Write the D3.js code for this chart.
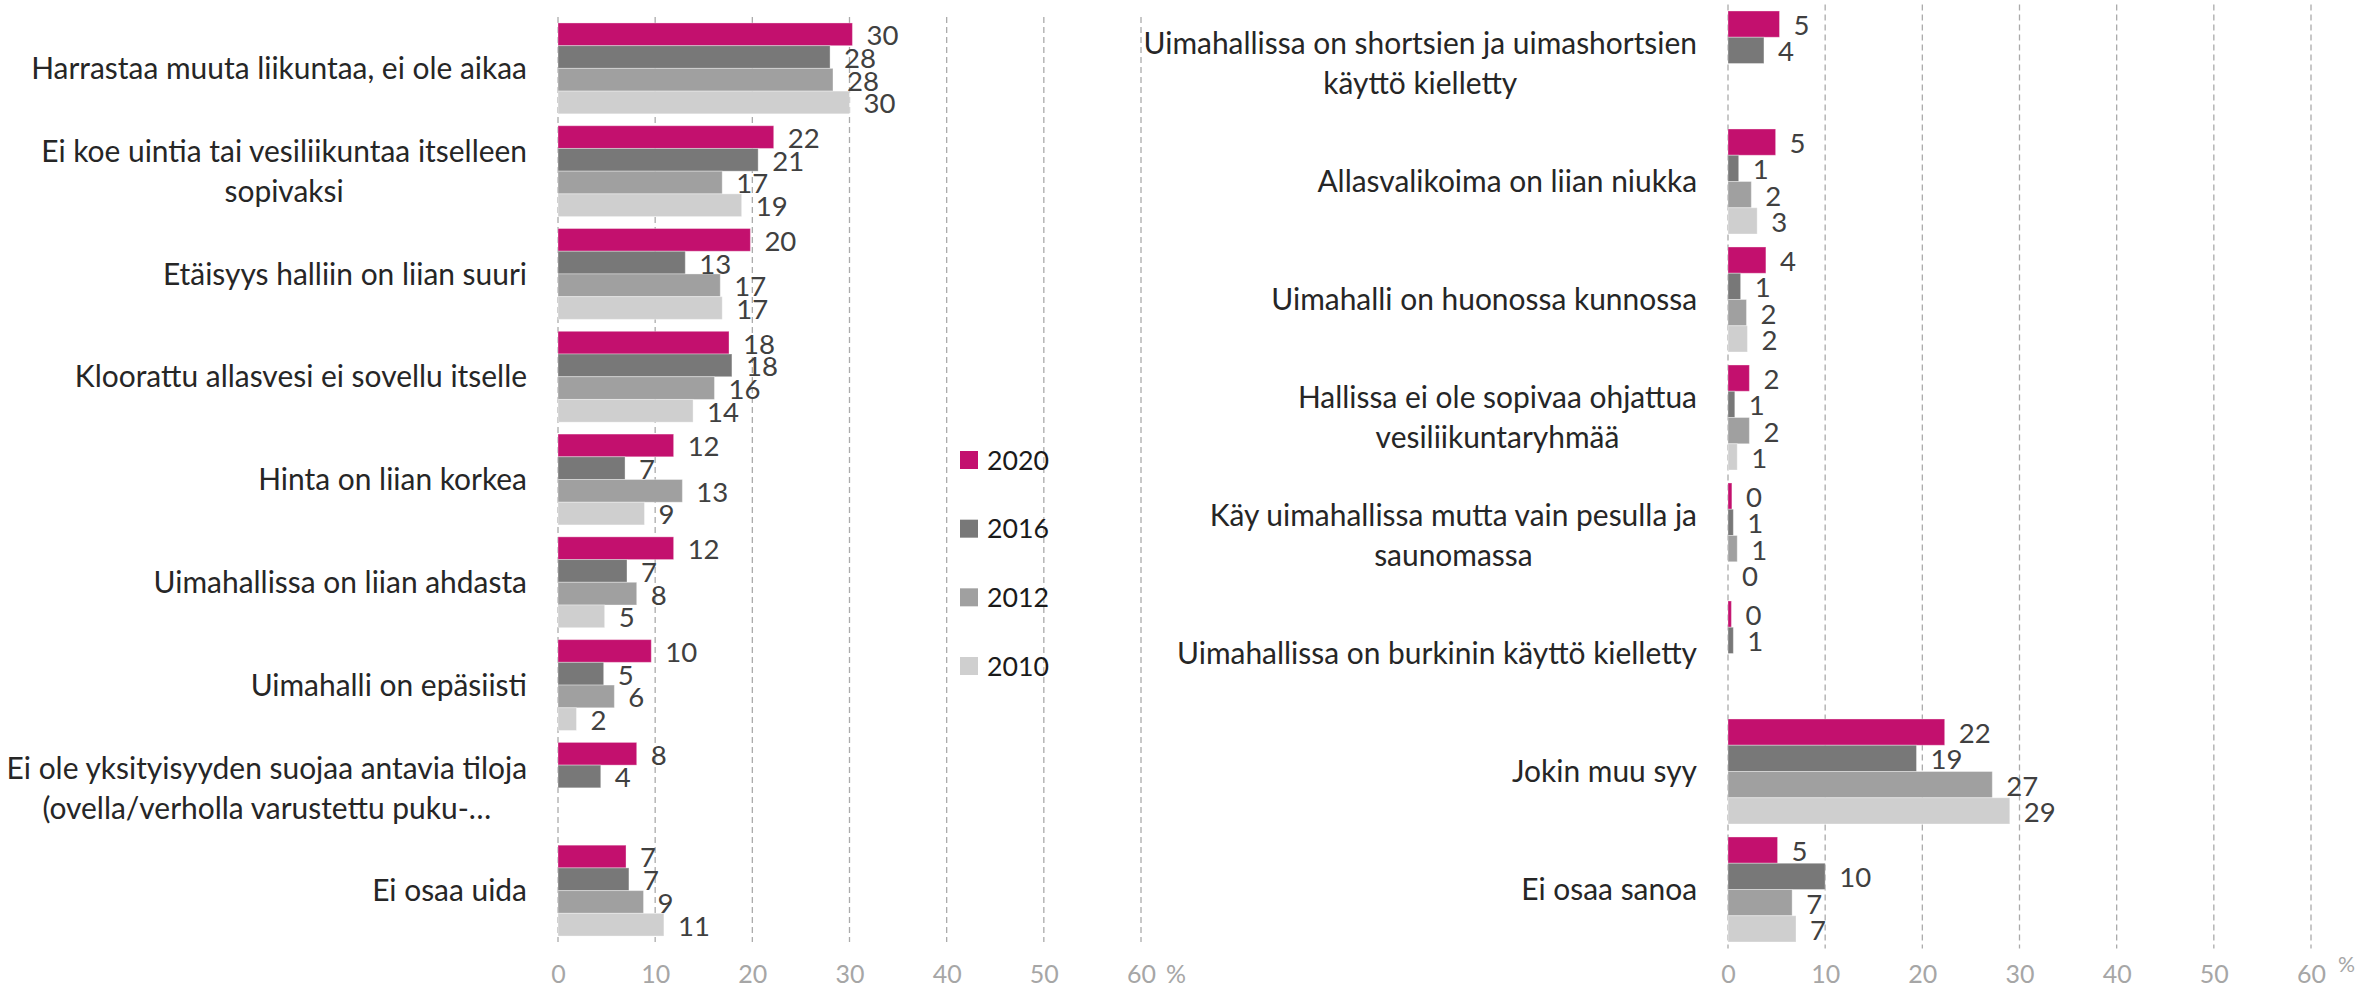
<!DOCTYPE html>
<html>
<head>
<meta charset="utf-8">
<script src="https://cdn.jsdelivr.net/npm/d3@7"></script>
<style>
  body { margin: 0; background: #ffffff; }
  svg { display: block; }
</style>
</head>
<body>
<svg id="chart" width="2380" height="991"></svg>
<script>
// ---------------- DATA ----------------
const series = ["2020", "2016", "2012", "2010"];
const seriesColors = ["#C3106E", "#787878", "#A0A0A0", "#CFCFCF"];
const xTicks = [0, 10, 20, 30, 40, 50, 60];
const unitLabel = "%";

const leftCategories = [
  "Harrastaa muuta liikuntaa, ei ole aikaa",
  "Ei koe uintia tai vesiliikuntaa itselleen\nsopivaksi",
  "Etäisyys halliin on liian suuri",
  "Kloorattu allasvesi ei sovellu itselle",
  "Hinta on liian korkea",
  "Uimahallissa on liian ahdasta",
  "Uimahalli on epäsiisti",
  "Ei ole yksityisyyden suojaa antavia tiloja\n(ovella/verholla varustettu puku-…",
  "Ei osaa uida"
];
const left2020 = [30.3, 22.2, 19.8, 17.6, 11.9, 11.9, 9.6, 8.1, 7.0];
const left2016 = [28.0, 20.6, 13.1, 17.9, 6.9, 7.1, 4.7, 4.4, 7.3];
const left2012 = [28.3, 16.9, 16.7, 16.1, 12.8, 8.1, 5.8, null, 8.8];
const left2010 = [30.0, 18.9, 16.9, 13.9, 8.9, 4.8, 1.9, null, 10.9];

const rightCategories = [
  "Uimahallissa on shortsien ja uimashortsien\nkäyttö kielletty",
  "Allasvalikoima on liian niukka",
  "Uimahalli on huonossa kunnossa",
  "Hallissa ei ole sopivaa ohjattua\nvesiliikuntaryhmää",
  "Käy uimahallissa mutta vain pesulla ja\nsaunomassa",
  "Uimahallissa on burkinin käyttö kielletty",
  "Jokin muu syy",
  "Ei osaa sanoa"
];
const right2020 = [5.3, 4.9, 3.9, 2.2, 0.4, 0.35, 22.3, 5.1];
const right2016 = [3.7, 1.1, 1.3, 0.7, 0.55, 0.55, 19.4, 10.0];
const right2012 = [null, 2.4, 1.9, 2.2, 0.95, null, 27.2, 6.6];
const right2010 = [null, 3.0, 2.0, 0.95, 0, null, 29.0, 7.0];

// ---------------- RENDER ----------------
const FONT = "Lato, 'Open Sans', 'Noto Sans', sans-serif";
const svg = d3.select("#chart");

function measure(text, size) {
  const t = svg.append("text").attr("font-family", FONT).attr("font-size", size).text(text);
  const w = t.node().getComputedTextLength();
  t.remove();
  return w;
}
const catSize = 29 * 496 / measure("Harrastaa muuta liikuntaa, ei ole aikaa", 29);
const valSize = 27 * 32 / measure("30", 27);
const tickSize = 22 * 29 / measure("60", 22);
const legSize = 26 * 62 / measure("2020", 26);

function panel(cfg) {
  const g = svg.append("g");
  const x = d3.scaleLinear().domain([0, 60]).range([cfg.x0, cfg.x1]);
  const y = d3.scaleBand().domain(cfg.categories)
    .range([cfg.top, cfg.bottom]).paddingInner(cfg.pad).paddingOuter(cfg.pad / 2);
  const ys = d3.scaleBand().domain(series).range([0, y.bandwidth()]);

  // gridlines
  g.append("g").selectAll("line").data(xTicks).join("line")
    .attr("x1", d => x(d)).attr("x2", d => x(d))
    .attr("y1", cfg.top).attr("y2", cfg.bottom)
    .attr("stroke", "#ABABAB").attr("stroke-width", 1.3)
    .attr("stroke-dasharray", "6,4");

  // axis tick labels
  const axis = g.append("g").attr("transform", `translate(0,${cfg.tickY})`)
    .call(d3.axisBottom(x).tickValues(xTicks).tickSize(0).tickPadding(0));
  axis.select(".domain").remove();
  axis.selectAll("text")
    .attr("y", 0).attr("dy", "0.36em")
    .attr("font-family", FONT).attr("font-size", tickSize)
    .attr("fill", "#A6A6A6");
  g.append("text").attr("x", cfg.pctX).attr("y", cfg.pctY).attr("dy", "0.36em")
    .attr("font-family", FONT).attr("font-size", tickSize * cfg.pctScale)
    .attr("fill", "#A6A6A6").text(unitLabel);

  // bars
  const rows = [];
  cfg.categories.forEach((c, i) => {
    series.forEach((s, j) => {
      const v = cfg.values[j][i];
      if (v !== null && v !== undefined) rows.push({ c, s, j, v });
    });
  });
  g.append("g").selectAll("rect").data(rows).join("rect")
    .attr("x", x(0))
    .attr("y", d => y(d.c) + ys(d.s))
    .attr("width", d => Math.max(0, x(d.v) - x(0)))
    .attr("height", ys.bandwidth())
    .attr("fill", d => seriesColors[d.j])
    .attr("stroke", d => d.v > 0 ? "rgba(255,255,255,0.35)" : "none")
    .attr("stroke-width", 1);

  // value labels
  g.append("g").selectAll("text").data(rows).join("text")
    .attr("x", d => x(d.v) + 14)
    .attr("y", d => y(d.c) + ys(d.s) + ys.bandwidth() / 2 + 1)
    .attr("dy", "0.36em")
    .attr("font-family", FONT).attr("font-size", valSize)
    .attr("fill", "#404040")
    .text(d => d3.format(".0f")(d.v));

  // category labels
  const lh = 40;
  cfg.categories.forEach(c => {
    const lines = c.split("\n");
    const t = g.append("text")
      .attr("font-family", FONT).attr("font-size", catSize)
      .attr("fill", "#262626").attr("text-anchor", "middle");
    const cy = y(c) + y.bandwidth() / 2;
    lines.forEach((ln, k) => {
      t.append("tspan").attr("x", 0)
        .attr("y", cy + (k - (lines.length - 1) / 2) * lh)
        .attr("dy", "0.36em").text(ln);
    });
    const maxW = d3.max(t.selectAll("tspan").nodes(), n => n.getComputedTextLength());
    t.selectAll("tspan").attr("x", cfg.labelRight - maxW / 2);
  });
}

panel({
  categories: leftCategories,
  values: [left2020, left2016, left2012, left2010],
  x0: 558, x1: 1141, top: 17, bottom: 942, pad: 0.116,
  tickY: 974, pctX: 1166, pctY: 974, pctScale: 1,
  labelRight: 527
});
panel({
  categories: rightCategories,
  values: [right2020, right2016, right2012, right2010],
  x0: 1728, x1: 2311, top: 4.5, bottom: 948.5, pad: 0.11,
  tickY: 974, pctX: 2338, pctY: 964, pctScale: 0.85,
  labelRight: 1697
});

// legend
const legY = d3.scalePoint().domain(series).range([460, 666]);
const leg = svg.append("g");
leg.selectAll("rect").data(series).join("rect")
  .attr("x", 960).attr("y", d => legY(d) - 9)
  .attr("width", 18).attr("height", 18)
  .attr("fill", (d, i) => seriesColors[i]);
leg.selectAll("text").data(series).join("text")
  .attr("x", 987).attr("y", d => legY(d)).attr("dy", "0.36em")
  .attr("font-family", FONT).attr("font-size", legSize)
  .attr("fill", "#1A1A1A").text(d => d);
</script>
</body>
</html>
